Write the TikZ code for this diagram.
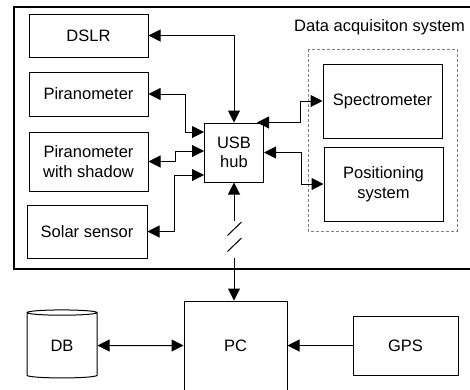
\documentclass[tikz,border=0pt]{standalone}
\usepackage{fontspec}
\setmainfont{Liberation Sans}
\usetikzlibrary{arrows.meta,positioning,shapes.geometric,calc}

\begin{document}
\begin{tikzpicture}[x=1pt,y=-1pt,
    font=\fontsize{16.5}{19.5}\selectfont,
    every node/.style={inner sep=0pt},
    blk/.style={draw, line width=1pt, align=center, minimum width=119pt},
    conn/.style={line width=1pt, {Triangle[length=12pt,width=12pt]}-{Triangle[length=12pt,width=12pt]}},
    into/.style={line width=1pt, -{Triangle[length=12pt,width=12pt]}},
    outof/.style={line width=1pt, {Triangle[length=12pt,width=12pt]}-}]
	\clip (0,0) rectangle (470,389);

	% data acquisition box
	\draw[line width=1.2pt] (14,7) rectangle (480,269);
	\node[anchor=base east] (daqlabel) at (465,31) {Data acquisiton system};
	\draw[gray, line width=0.8pt, dash pattern=on 3pt off 2pt] (308,49) rectangle (457,231);

	\node[blk, minimum height=43pt] (dslr) at (88.5,35.5) {DSLR};
	\node[blk, minimum height=44pt] (pir) at (88.5,94) {Piranometer};
	\node[blk, minimum height=59pt] (pws) at (88.5,161.5) {Piranometer\\with shadow};
	\node[blk, minimum width=120pt, minimum height=53pt] (solar) at (87,231.5) {Solar sensor};
	\node[blk, minimum width=59pt, minimum height=59pt] (usb) at (234,152.5) {USB\\hub};
	\node[blk, minimum height=74pt] (spec) at (382.5,101) {Spectrometer};
	\node[blk, minimum height=74pt] (pos) at (383.5,184) {Positioning\\system};

	% lower row
	\node[blk, minimum width=103pt, minimum height=89pt] (pc) at (235.5,345.5) {PC};
	\node[blk, minimum width=105pt, minimum height=59pt] (gps) at (405.5,345.5) {GPS};
	\node[draw, line width=1pt, cylinder, shape border rotate=90, aspect=0.23,
		minimum width=70pt, minimum height=68pt] (db) at (62,345.5) {DB};

	\draw[conn] (dslr.east) -| (usb.north);
	\draw[conn] (pir.east) -- ++(37,0) |- ([yshift=20.5pt]usb.west);
	\draw[conn] (pws.east) -- ++(27,0) |- ([yshift=1.5pt]usb.west);
	\draw[conn] (solar.east) -- ++(27,0) |- ([yshift=-22.5pt]usb.west);
	\draw[conn] (spec.west) -- ++(-22,0) |- ([xshift=-7pt]usb.north east);
	\draw[conn] (pos.west) -- ++(-22,0) |- (usb.east);

	% broken link to the PC
	\coordinate (cuttop) at ($(usb.south)+(0,38)$);
	\coordinate (cutbot) at ($(usb.south)+(0,75)$);
	\draw[outof] (usb.south) -- (cuttop);
	\draw[into] (cutbot) -- (usb.south |- pc.north);
	\foreach \dy in {0,16}
		\draw[line width=1pt] ($(cuttop)+(-6.5,15+\dy)$) -- ++(14,-13.5);

	\draw[conn] (db.east) -- (pc.west);
	\draw[into] (gps.west) -- (pc.east);
\end{tikzpicture}
\end{document}
